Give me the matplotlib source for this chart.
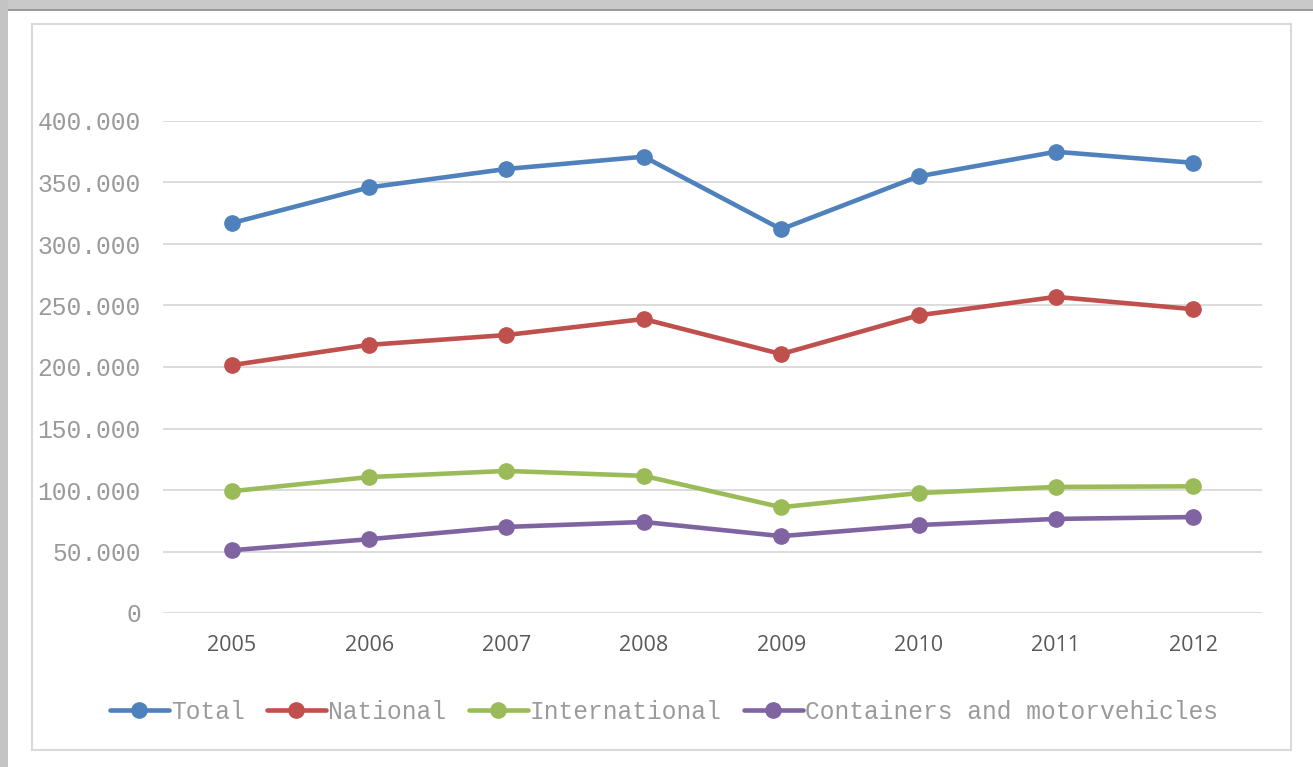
import numpy as np
import matplotlib
matplotlib.use("Agg")
import matplotlib.pyplot as plt
from matplotlib.patches import Rectangle
from matplotlib.ticker import FuncFormatter

years = ["2005", "2006", "2007", "2008", "2009", "2010", "2011", "2012"]
total = [317000, 346000, 361000, 371000, 312000, 355000, 375000, 366000]
national = [201500, 218000, 226000, 239000, 210500, 242000, 257000, 247000]
international = [99000, 110500, 115500, 111500, 86000, 97500, 102500, 103000]
containers = [51000, 60000, 70000, 74000, 62500, 71500, 76500, 78000]

series = [
    ("Total", total, "#4f81bd"),
    ("National", national, "#c0504d"),
    ("International", international, "#9bbb59"),
    ("Containers and motorvehicles", containers, "#8064a2"),
]

W, H = 1313, 767
fig = plt.figure(figsize=(W / 100, H / 100), dpi=100)
fig.patch.set_facecolor("white")

# screenshot frame: gray bands top/left and the light chart border
fig.add_artist(Rectangle((0, 1 - 10 / H), 1, 10 / H, transform=fig.transFigure,
                         facecolor="#c9c9c9", edgecolor="none", zorder=0))
fig.add_artist(Rectangle((0, 1 - 11 / H), 1, 1.5 / H, transform=fig.transFigure,
                         facecolor="#9a9a9a", edgecolor="none", zorder=0))
fig.add_artist(Rectangle((0, 0), 8 / W, 1, transform=fig.transFigure,
                         facecolor="#c4c4c4", edgecolor="none", zorder=0))
fig.add_artist(Rectangle((32 / W, 1 - 750 / H), (1291 - 32) / W, (750 - 24) / H,
                         transform=fig.transFigure, facecolor="white",
                         edgecolor="#d9d9d9", linewidth=1.5, zorder=0))

ax = fig.add_axes([163 / W, (H - 613) / H, 1099 / W, 492 / H])
ax.set_facecolor("none")

x = np.arange(len(years))
for name, vals, col in series:
    ax.plot(x, vals, color=col, lw=3.3, marker="o", markersize=11,
            label=name, solid_capstyle="round", zorder=3)

ax.set_xlim(-0.5, len(years) - 0.5)
ax.set_ylim(0, 400000)
ax.set_yticks(np.arange(0, 400001, 50000))
ax.yaxis.set_major_formatter(FuncFormatter(lambda v, p: f"{int(v):,}".replace(",", ".")))
ax.set_xticks(x)
ax.set_xticklabels(years)

ax.grid(axis="y", color="#d9d9d9", lw=1.3)
ax.set_axisbelow(True)
for s in ax.spines.values():
    s.set_visible(False)
ax.tick_params(axis="both", length=0)
ax.tick_params(axis="y", pad=16, labelsize=17.7, labelcolor="#9a9a9a")
ax.tick_params(axis="x", pad=16, labelsize=15.5, labelcolor="#595959")
for lbl in ax.get_yticklabels():
    lbl.set_family("Liberation Mono")
for lbl in ax.get_xticklabels():
    lbl.set_family("Open Sans")

fig.legend(loc="center", bbox_to_anchor=(664 / W, 1 - 712 / H), ncol=4,
           frameon=False, prop={"family": "Liberation Mono", "size": 17.7},
           labelcolor="#9a9a9a", handlelength=2.4, handletextpad=0.1,
           columnspacing=0.9)

fig.savefig("out.png", dpi=100)
